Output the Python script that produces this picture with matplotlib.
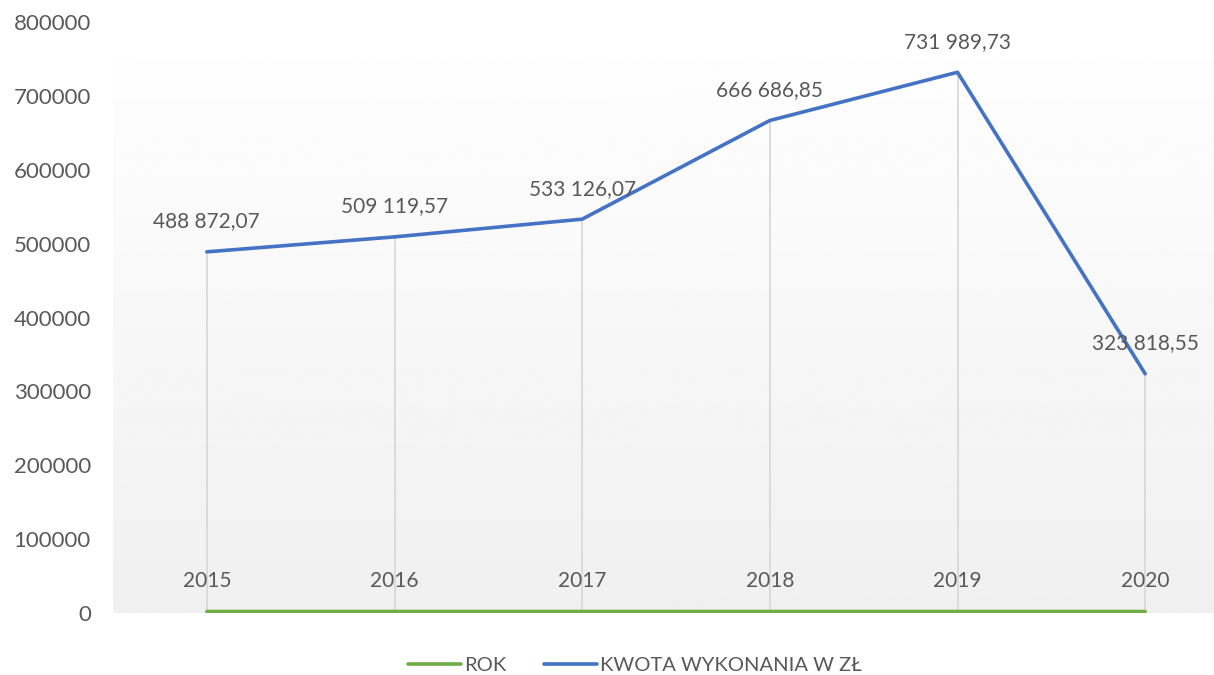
import numpy as np
import matplotlib.pyplot as plt

plt.rcParams['font.family'] = ['Lato', 'DejaVu Sans']

rok = [2015, 2016, 2017, 2018, 2019, 2020]
kwota = [488872.07, 509119.57, 533126.07, 666686.85, 731989.73, 323818.55]
yticks = [0, 100000, 200000, 300000, 400000, 500000, 600000, 700000, 800000]

txt = '#595959'
green = '#70ad47'
blue = '#4472c4'


def pl_fmt(v):
    s = f'{v:,.2f}'
    return s.replace(',', ' ').replace('.', ',')


fig = plt.figure(figsize=(12.14, 6.75), dpi=100)
ax = fig.add_axes([113 / 1214, 62 / 675, 1126 / 1214, 591 / 675])
x = np.arange(len(rok))

# background gradient, white at top to light grey at bottom
grad = np.linspace(1.0, 0.94, 256).reshape(-1, 1)
ax.imshow(grad, extent=[0, 1, 0, 1], transform=ax.transAxes, cmap='gray',
          vmin=0, vmax=1, aspect='auto', zorder=0)

# drop lines
for xi, v in zip(x, kwota):
    ax.plot([xi, xi], [0, v], color='#d9d9d9', lw=1.3, zorder=1)

ax.plot(x, rok, color=green, lw=2.6, solid_capstyle='round', zorder=3, label='ROK')
ax.plot(x, kwota, color=blue, lw=2.6, solid_capstyle='round', zorder=3,
        label='KWOTA WYKONANIA W ZŁ')

for xi, v in zip(x, kwota):
    ax.annotate(pl_fmt(v), (xi, v), xytext=(0, 22), textcoords='offset points',
                ha='center', va='center', fontsize=15, color=txt, zorder=4)
for xi, v in zip(x, rok):
    ax.annotate(str(v), (xi, v), xytext=(0, 22), textcoords='offset points',
                ha='center', va='center', fontsize=15, color=txt, zorder=4)

ax.set_xlim(-0.5, len(rok) - 0.5)
ax.set_ylim(0, 800000)
ax.set_yticks(yticks)
ax.set_yticklabels([str(t) for t in yticks])
ax.set_xticks([])
ax.tick_params(axis='y', length=0, labelsize=16, labelcolor=txt, pad=16)
for s in ax.spines.values():
    s.set_visible(False)

fig.legend(loc='lower center', bbox_to_anchor=(0.523, -0.025), ncol=2,
           frameon=False, fontsize=14.5, labelcolor=txt, handlelength=2.6,
           handletextpad=0.15, columnspacing=1.9)

fig.savefig('out.png', dpi=100)
